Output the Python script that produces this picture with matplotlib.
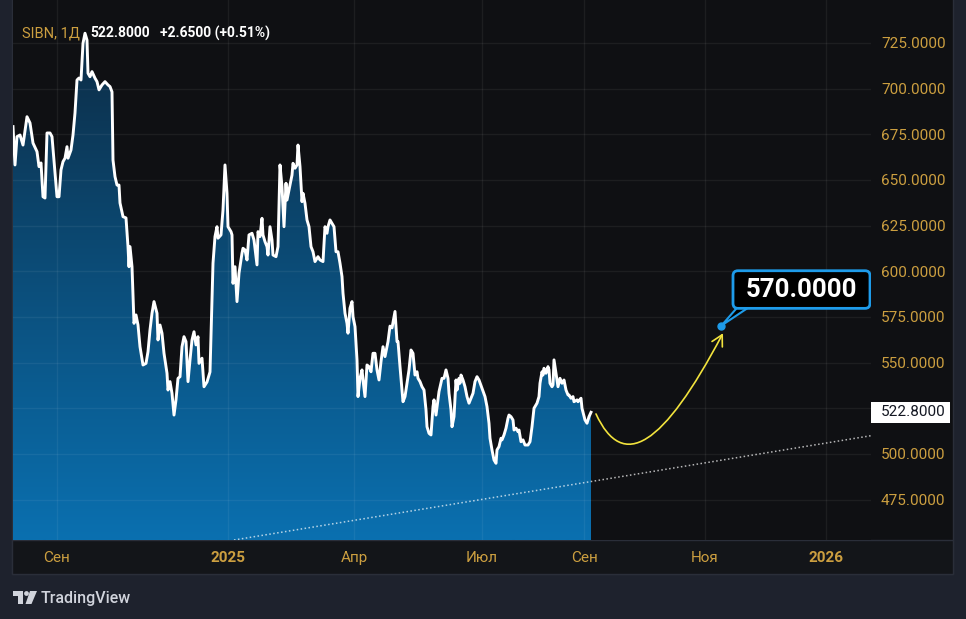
import numpy as np
import matplotlib
matplotlib.use("Agg")
import matplotlib.pyplot as plt
from matplotlib.patches import Polygon, Rectangle, FancyBboxPatch, FancyArrowPatch, Circle
from matplotlib.path import Path
from matplotlib.colors import LinearSegmentedColormap
import matplotlib.transforms as mtransforms

plt.rcParams['font.family'] = ['Roboto', 'DejaVu Sans']

# ---------------- data ----------------
ticker = "SIBN, 1Д"
last_close = 522.8
change = 2.65
change_pct = 0.51

session = [0, 2, 4, 7, 10, 14, 17, 20, 24, 26, 28, 30, 32, 34, 37, 39, 42, 44, 46, 48,
           50, 52, 54, 55, 58, 60, 62, 64, 66, 68, 70, 72, 74, 75, 77, 79, 82, 84, 86, 89,
           92, 95, 97, 99, 100, 102, 104, 106, 107, 110, 113, 115, 116, 117, 119, 121, 123, 125, 127, 130,
           133, 135, 137, 139, 141, 144, 145, 147, 149, 151, 154, 155, 157, 159, 161, 163, 165, 167, 169, 171,
           173, 175, 177, 179, 181, 183, 185, 186, 189, 191, 194, 197, 200, 202, 204, 205, 208, 210, 212, 214,
           215, 218, 219, 220, 222, 224, 226, 229, 230, 232, 234, 236, 239, 241, 244, 245, 247, 249, 250, 252,
           254, 255, 257, 259, 260, 263, 265, 267, 269, 271, 273, 274, 276, 279, 280, 282, 284, 285, 287, 289,
           290, 292, 294, 296, 298, 300, 302, 305, 307, 310, 312, 314, 315, 317, 319, 321, 323, 325, 327, 329,
           330, 332, 334, 335, 337, 339, 340, 342, 344, 345, 347, 349, 350, 352, 354, 356, 358, 360, 362, 364,
           366, 368, 370, 372, 375, 377, 379, 380, 382, 384, 385, 387, 389, 390, 392, 394, 396, 398, 400, 402,
           404, 405, 407, 409, 411, 413, 414, 416, 418, 420, 421, 423, 425, 426, 429, 431, 433, 435, 436, 438,
           439, 441, 443, 444, 446, 447, 448, 450, 452, 454, 456, 458, 460, 462, 464, 466, 469, 472, 474, 476,
           477, 479, 481, 483, 484, 486, 488, 489, 491, 493, 495, 496, 498, 500, 501, 503, 505, 506, 508, 510,
           512, 515, 517, 519, 521, 524, 526, 527, 529, 530, 531, 533, 535, 536, 537, 539, 540, 541, 543, 545,
           547, 549, 551, 553, 555, 556, 558, 560, 561, 564, 565, 568, 569, 572, 574, 576, 578]

close = [679.2, 658.2, 673.7, 674.6, 669.1, 684.6, 681.2, 670.2, 665.5, 657.3, 659.3, 640.8, 640.1, 675.7, 675.7, 673.7, 653.8, 640.8, 640.8, 655.5,
         660.0, 661.9, 668.2, 661.9, 666.4, 674.6, 686.7, 704.7, 705.8, 704.7, 724.8, 730.3, 726.6, 708.4, 706.5, 709.3, 705.7, 703.8, 699.3, 702.0,
         703.8, 702.0, 701.1, 698.2, 660.9, 651.8, 647.2, 647.2, 637.4, 629.9, 629.2, 613.5, 602.5, 613.5, 602.5, 571.5, 576.1, 570.6, 558.7, 548.7,
         549.6, 556.0, 567.9, 577.0, 583.4, 577.0, 562.4, 570.6, 566.1, 555.1, 544.2, 535.0, 539.6, 533.2, 521.3, 529.6, 541.4, 542.3, 558.7, 564.2,
         561.5, 539.6, 551.5, 562.4, 566.9, 559.7, 564.2, 549.6, 552.4, 536.8, 539.4, 544.9, 604.4, 619.0, 624.4, 618.1, 619.9, 633.6, 658.2, 642.7,
         624.4, 621.7, 619.9, 593.4, 602.5, 583.4, 598.9, 609.9, 612.6, 611.7, 606.2, 619.9, 620.8, 617.1, 603.5, 621.7, 619.0, 629.0, 619.9, 616.2,
         613.5, 608.9, 624.4, 617.1, 608.9, 608.0, 613.5, 658.2, 646.3, 624.4, 648.2, 639.0, 644.5, 652.7, 659.1, 656.4, 658.2, 669.1, 657.3, 638.1,
         642.7, 637.2, 628.1, 624.4, 613.5, 610.7, 605.3, 608.0, 606.2, 605.3, 624.4, 620.8, 624.4, 628.1, 626.3, 624.4, 610.7, 610.7, 604.4, 597.1,
         588.0, 577.0, 571.5, 566.1, 579.8, 583.4, 575.2, 569.7, 551.5, 531.4, 541.4, 546.0, 540.5, 531.4, 548.7, 547.8, 545.0, 555.1, 555.1, 546.0,
         540.5, 550.5, 558.7, 553.3, 561.5, 570.0, 569.0, 572.0, 578.0, 561.5, 561.5, 547.8, 535.0, 528.6, 531.4, 538.7, 546.0, 556.9, 555.1, 543.2,
         545.0, 541.4, 539.6, 536.8, 535.0, 524.1, 514.9, 511.3, 510.4, 525.9, 529.6, 521.3, 529.6, 534.1, 541.4, 541.4, 546.0, 541.4, 533.2, 524.1,
         514.9, 520.4, 540.5, 535.0, 541.4, 538.7, 543.2, 540.5, 536.8, 531.4, 527.8, 530.5, 533.2, 539.6, 542.3, 540.5, 536.0, 531.4, 525.9, 516.8,
         508.6, 502.2, 496.7, 494.9, 502.2, 504.0, 508.6, 507.7, 510.4, 514.1, 519.5, 521.3, 520.4, 518.6, 513.1, 514.1, 512.2, 513.1, 506.7, 507.7,
         504.9, 504.9, 506.7, 514.9, 525.0, 527.8, 531.4, 538.7, 545.0, 543.2, 546.9, 544.2, 547.8, 546.0, 538.7, 536.8, 537.8, 551.5, 544.2, 536.8,
         541.4, 538.7, 540.5, 535.0, 532.3, 532.3, 530.5, 531.4, 528.6, 529.6, 528.6, 530.5, 525.0, 518.6, 516.8, 520.4, 522.8]

assert len(session) == len(close)

month_ticks = [44, 215, 341, 469, 571, 692, 813]
month_labels = ["Сен", "2025", "Апр", "Июл", "Сен", "Ноя", "2026"]
year_labels = {"2025", "2026"}
price_ticks = [475, 500, 525, 550, 575, 600, 625, 650, 675, 700, 725]
hidden_price_labels = {525}   # covered by the last-price marker in the reference

trend_session = [221, 858]
trend_price = [452.9, 510.0]

forecast_points = [(583, 521.9), (610, 490.0), (650, 504.0), (710, 566.1)]
target_session = 708
target_price = 570.0
callout_session = (720, 857)
callout_price = (579.7, 600.3)

# ---------------- style ----------------
W, H = 966, 619
BG_OUT = '#1e222d'
BG_PLOT = '#0f1013'
GOLD = '#cc9f40'
BLUE = '#1e9be9'
YELLOW = '#f2e33d'
XMIN, XMAX = 0, 858
YMIN, YMAX = 452.9, 748.5

fig = plt.figure(figsize=(W / 100, H / 100), dpi=100, facecolor=BG_OUT)
tpx = mtransforms.Affine2D().scale(1 / W, -1 / H).translate(0, 1) + fig.transFigure

# panel and bottom strip
fig.add_artist(Rectangle((12, -5), 941, 579, transform=tpx, fc=BG_PLOT, ec='#2a2e39', lw=1, zorder=0))
fig.add_artist(Rectangle((12, 540), 941, 34, transform=tpx, fc='#131519', ec='#2a2e39', lw=1, zorder=0))

ax = fig.add_axes([13 / W, 1 - 540 / H, (871 - 13) / W, 540 / H])
ax.set_facecolor(BG_PLOT)
for s in ax.spines.values():
    s.set_visible(False)

# gradient area
cmap = LinearSegmentedColormap.from_list('area', ['#0a70b0', '#0d2c45'])
grad = np.linspace(0, 1, 256).reshape(-1, 1)
im = ax.imshow(grad, cmap=cmap, origin='lower', extent=[XMIN, XMAX, YMIN, 732],
               aspect='auto', zorder=1, interpolation='bilinear')
poly = Polygon(list(zip(session, close)) + [(session[-1], YMIN - 5), (session[0], YMIN - 5)],
               closed=True, transform=ax.transData, fc='none', ec='none')
ax.add_patch(poly)
im.set_clip_path(poly)

ax.plot(session, close, color='white', lw=2.1, zorder=4, solid_joinstyle='round')

# trend line
ax.plot(trend_session, trend_price, color='white', alpha=0.7, lw=1.1,
        ls=(0, (1, 1.6)), zorder=3)

# forecast curve
fpath = Path(forecast_points, [Path.MOVETO, Path.CURVE4, Path.CURVE4, Path.CURVE4])
arrow = FancyArrowPatch(path=fpath, arrowstyle='->,head_length=0.55,head_width=0.3',
                        mutation_scale=14, color=YELLOW, lw=1.2, transform=ax.transData, zorder=5)
ax.add_patch(arrow)

# callout
aspect = 1 / 1.8267
tail = Polygon([(callout_session[0] + 4, callout_price[0] + 0.3),
                (callout_session[0] + 15, callout_price[0] + 0.3),
                (target_session + 0.5, target_price + 0.3)],
               closed=True, fc='black', ec=BLUE, lw=1.5, zorder=5.5)
ax.add_patch(tail)
box = FancyBboxPatch((callout_session[0], callout_price[0]),
                     callout_session[1] - callout_session[0], callout_price[1] - callout_price[0],
                     boxstyle='round,pad=0,rounding_size=5', mutation_aspect=aspect,
                     fc='black', ec=BLUE, lw=2, zorder=6)
ax.add_patch(box)
ax.plot([target_session], [target_price], 'o', ms=5, color=BLUE, zorder=7)
ax.text(sum(callout_session) / 2, sum(callout_price) / 2, f"{target_price:.4f}",
        ha='center', va='center', fontsize=18.5, fontweight='bold', color='white', zorder=8)

ax.set_xlim(XMIN, XMAX)
ax.set_ylim(YMIN, YMAX)

# axes ticks
ax.set_xticks(month_ticks)
ax.set_xticklabels(month_labels)
ax.set_yticks(price_ticks)
ax.set_yticklabels(["" if p in hidden_price_labels else f"{p:.4f}" for p in price_ticks])
ax.yaxis.tick_right()
ax.tick_params(axis='x', length=0, pad=12.9, labelsize=11, labelcolor=GOLD)
ax.tick_params(axis='y', length=0, pad=7.2, labelsize=11, labelcolor=GOLD)
for lab in ax.get_xticklabels():
    lab.set_va('center')
    if lab.get_text() in year_labels:
        lab.set_fontweight('bold')
ax.grid(True, color='white', alpha=0.06, lw=1)
ax.set_axisbelow(False)

# last price label
blend = mtransforms.blended_transform_factory(ax.transAxes, ax.transData)
ax.add_patch(Rectangle((1.0, last_close - 5.6), 79 / 858, 11.2, transform=blend,
                       fc='white', ec='none', clip_on=False, zorder=9))
ax.text(1 + 10 / 858, last_close, f"{last_close:.4f}", transform=blend, ha='left', va='center',
        fontsize=11, color='#131722', clip_on=False, zorder=10)

# header
fig.text(22 / W, 1 - 33 / H, ticker, color=GOLD, fontsize=10.5, va='center')
fig.text(90 / W, 1 - 33 / H, f"{last_close:.4f}", color='white', fontsize=10,
         fontweight='bold', va='center')
fig.text(160 / W, 1 - 33 / H, f"+{change:.4f} (+{change_pct:.2f}%)", color='white',
         fontsize=10, fontweight='bold', va='center')

# TradingView logo
LOGO = '#d1d4dc'
fig.add_artist(Polygon([(13, 591), (23, 591), (23, 604), (18, 604), (18, 596), (13, 596)],
                       closed=True, transform=tpx, fc=LOGO, ec='none'))
fig.add_artist(Circle((26.5, 593.5), 2.4, transform=tpx, fc=LOGO, ec='none'))
fig.add_artist(Polygon([(30, 591), (37, 591), (31.5, 604), (25.5, 604)],
                       closed=True, transform=tpx, fc=LOGO, ec='none'))
fig.text(41 / W, 1 - 598 / H, "TradingView", color=LOGO, fontsize=11.5, va='center',
         fontweight='medium')

fig.savefig('out.png', dpi=100, facecolor=BG_OUT)
